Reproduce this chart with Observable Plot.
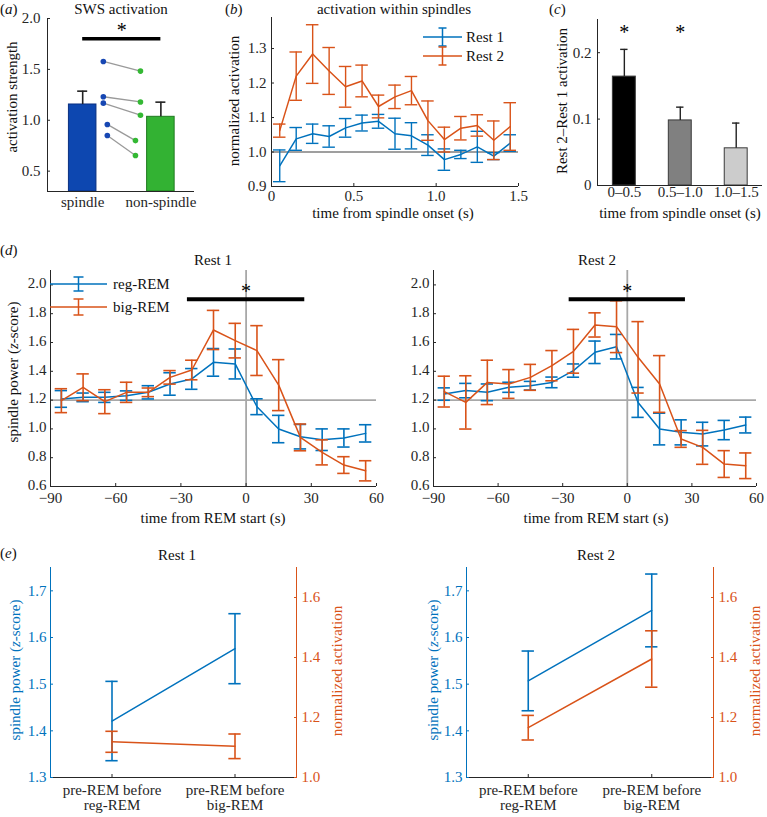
<!DOCTYPE html>
<html><head><meta charset="utf-8">
<script src="https://cdn.jsdelivr.net/npm/d3@7"></script>
<script src="https://cdn.jsdelivr.net/npm/@observablehq/plot@0.6"></script>
<style>
body{margin:0;background:#fff;}
#root{position:relative;width:767px;height:817px;font-family:"Liberation Serif","Times New Roman",serif;color:#111;overflow:hidden;background:#fff}
</style></head><body><div id="root"></div>
<script>
// ---------- DATA ----------
// (a) SWS activation
const catsA = ["spindle", "non-spindle"];
const barA = [1.155, 1.034];
const errA = [0.131, 0.144];
const pairsSpindle = [1.578, 1.231, 1.168, 0.959, 0.850];
const pairsNonSpindle = [1.483, 1.180, 1.050, 0.800, 0.654];
const sigA = {from: 1, to: 2, y: 1.80};

// (b) activation within spindles
const timeB = [0.05, 0.15, 0.25, 0.35, 0.45, 0.55, 0.65, 0.75, 0.85, 0.95, 1.05, 1.15, 1.25, 1.35, 1.45];
const rest1B = [0.960, 1.038, 1.053, 1.045, 1.070, 1.084, 1.089, 1.053, 1.047, 1.020, 0.978, 0.993, 1.015, 0.988, 1.026];
const rest1BErr = [0.046, 0.033, 0.028, 0.031, 0.027, 0.023, 0.020, 0.045, 0.038, 0.030, 0.031, 0.012, 0.045, 0.010, 0.024];
const rest2B = [1.062, 1.220, 1.284, 1.235, 1.189, 1.206, 1.132, 1.160, 1.178, 1.091, 1.036, 1.069, 1.077, 1.034, 1.074];
const rest2BErr = [0.019, 0.070, 0.085, 0.068, 0.059, 0.046, 0.033, 0.034, 0.041, 0.057, 0.036, 0.034, 0.031, 0.056, 0.069];

// (c) Rest 2 - Rest 1 activation
const catsC = ["0–0.5", "0.5–1.0", "1.0–1.5"];
const diffC = [0.164, 0.098, 0.056];
const diffCErr = [0.041, 0.020, 0.038];
const sigC = [true, true, false];

// (d) spindle power around REM start
const timeD = [-85, -75, -65, -55, -45, -35, -25, -15, -5, 5, 15, 25, 35, 45, 55];
const regR1 = [1.208, 1.219, 1.219, 1.231, 1.254, 1.312, 1.347, 1.462, 1.451, 1.154, 0.999, 0.946, 0.925, 0.937, 0.969];
const regR1Err = [0.058, 0.030, 0.035, 0.033, 0.046, 0.078, 0.072, 0.096, 0.104, 0.055, 0.095, 0.085, 0.075, 0.063, 0.060];
const bigR1 = [1.196, 1.289, 1.189, 1.254, 1.254, 1.358, 1.409, 1.687, 1.613, 1.544, 1.304, 0.941, 0.837, 0.749, 0.709];
const bigR1Err = [0.083, 0.093, 0.083, 0.070, 0.030, 0.047, 0.068, 0.136, 0.120, 0.173, 0.177, 0.093, 0.087, 0.058, 0.070];
const regR2 = [1.242, 1.266, 1.254, 1.289, 1.300, 1.323, 1.405, 1.532, 1.571, 1.184, 0.999, 0.976, 0.964, 0.992, 1.027];
const regR2Err = [0.043, 0.050, 0.058, 0.035, 0.030, 0.037, 0.046, 0.078, 0.085, 0.104, 0.110, 0.087, 0.082, 0.067, 0.055];
const bigR2 = [1.259, 1.184, 1.323, 1.312, 1.358, 1.439, 1.539, 1.722, 1.710, 1.497, 1.312, 0.930, 0.872, 0.756, 0.744];
const bigR2Err = [0.107, 0.185, 0.154, 0.100, 0.090, 0.105, 0.152, 0.084, 0.180, 0.248, 0.197, 0.058, 0.118, 0.093, 0.089];
const sigD = {from: -27, to: 27, y: 1.90};

// (e) pre-REM spindle power and activation
const catsE = ["pre-REM before\nreg-REM", "pre-REM before\nbig-REM"];
const powerE1 = [1.421, 1.576];
const powerE1Err = [0.085, 0.075];
const actE1 = [1.119, 1.104];
const actE1Err = [0.035, 0.041];
const powerE2 = [1.507, 1.658];
const powerE2Err = [0.064, 0.078];
const actE2 = [1.166, 1.395];
const actE2Err = [0.041, 0.094];

// ---------- HELPERS ----------
const root = document.getElementById("root");
const FONT = '"Liberation Serif","Times New Roman",serif';
const BLUE = "#0072BD", ORANGE = "#D95319", AX = "#262626";
const STYLE = {fontFamily: FONT, fontSize: "15px", color: AX, background: "transparent", overflow: "visible"};
const f1 = d3.format(".1f");
const f0 = d => d === 0 ? "0" : f1(d);

function box(fx0, fx1, fy0, fy1, bx0, bx1, by0, by1) {
  return {width: bx1 - bx0, height: by1 - by0, marginLeft: fx0 - bx0, marginRight: bx1 - fx1, marginTop: fy0 - by0, marginBottom: by1 - fy1};
}
function mount(svg, x, y) {
  svg.style.position = "absolute"; svg.style.left = x + "px"; svg.style.top = y + "px";
  root.appendChild(svg);
}
function txt(html, x, y, o = {}) {
  const d = document.createElement("div");
  d.innerHTML = html;
  d.style.cssText = `position:absolute;left:${x}px;top:${y}px;white-space:nowrap;font-size:${o.size || 15}px;line-height:1;color:${o.color || "#111"};transform:translate(${o.start ? "0" : "-50%"},-50%)${o.rotate ? " rotate(-90deg)" : ""};`;
  root.appendChild(d);
}
function errMarks(xs, ms, es, color, cap, oneSided = false, sw = 1.4) {
  const rows = xs.map((x, i) => ({x, lo: oneSided ? ms[i] : ms[i] - es[i], hi: ms[i] + es[i]}));
  const m = [
    Plot.ruleX(rows, {x: "x", y1: "lo", y2: "hi", stroke: color, strokeWidth: sw}),
    Plot.ruleY(rows, {y: "hi", x1: d => d.x - cap, x2: d => d.x + cap, stroke: color, strokeWidth: sw})
  ];
  if (!oneSided) m.push(Plot.ruleY(rows, {y: "lo", x1: d => d.x - cap, x2: d => d.x + cap, stroke: color, strokeWidth: sw}));
  return m;
}
function lineMark(xs, ms, color) {
  return Plot.line(xs.map((x, i) => ({x, y: ms[i]})), {x: "x", y: "y", stroke: color, strokeWidth: 1.5});
}
function axisLeft(ticks, fmt, color = AX, pad = 5, dy = 0) {
  return [
    Plot.axisY({ticks, tickFormat: fmt, tickSize: 0, tickPadding: pad, dy, fill: color, label: null}),
    Plot.axisY({ticks, tickSize: 3, dx: 3, stroke: color, fill: "none", label: null})
  ];
}
function axisRight(ticks, fmt, color = AX, pad = 5) {
  return [
    Plot.axisY({anchor: "right", ticks, tickFormat: fmt, tickSize: 0, tickPadding: pad, fill: color, label: null}),
    Plot.axisY({anchor: "right", ticks, tickSize: 3, dx: -3, stroke: color, fill: "none", label: null})
  ];
}
function axisBottom(ticks, fmt, pad = 5, inward = true, color = AX) {
  const m = [Plot.axisX({ticks, tickFormat: fmt, tickSize: 0, tickPadding: pad, fill: color, label: null})];
  if (inward) m.push(Plot.axisX({ticks, tickSize: 3, dy: -3, stroke: color, fill: "none", label: null}));
  return m;
}

// ---------- (a) ----------
{
  const xd = [0.55, 2.43], yd = [0.3, 2.0];
  const rows = catsA.map((c, i) => ({i: i + 1, v: barA[i]}));
  const barFill = ["#0d47b0", "#33b233"], barStroke = ["#0a2f80", "#1f7a1f"];
  const dotX1 = [1.264, 1.264, 1.264, 1.315, 1.315], dotX2 = [1.739, 1.739, 1.739, 1.675, 1.675];
  const pairs = pairsSpindle.map((s, i) => ({x1: dotX1[i], y1: s, x2: dotX2[i], y2: pairsNonSpindle[i]}));
  const svg = Plot.plot({
    ...box(47, 194, 18, 191, 0, 205, 0, 225), style: STYLE,
    x: {domain: xd, axis: null}, y: {domain: yd, axis: null}, color: {type: "identity"},
    marks: [
      Plot.rectY(rows, {x1: d => d.i - 0.176, x2: d => d.i + 0.176, y1: yd[0], y2: "v", fill: d => barFill[d.i - 1], stroke: d => barStroke[d.i - 1], strokeWidth: 1}),
      ...errMarks([1, 2], barA, errA, "#222", 0.064, true, 1.6),
      Plot.link(pairs, {x1: "x1", y1: "y1", x2: "x2", y2: "y2", stroke: "#9a9a9a", strokeWidth: 1.3}),
      Plot.dot(pairs, {x: "x1", y: "y1", r: 2.8, fill: "#1747b3"}),
      Plot.dot(pairs, {x: "x2", y: "y2", r: 2.8, fill: "#33b833"}),
      Plot.ruleY([sigA], {y: "y", x1: "from", x2: "to", stroke: "#000", strokeWidth: 3.5}),
      Plot.text([sigA], {x: d => (d.from + d.to) / 2, y: "y", text: () => "*", dy: -8, fontSize: 20, fill: "#000"}),
      Plot.ruleX([xd[0]], {stroke: AX}), Plot.ruleY([yd[0]], {stroke: AX}),
      ...axisLeft([0.5, 1.0, 1.5, 2.0], f1, AX, 7),
      ...axisBottom([1, 2], d => catsA[d - 1], 5, false)
    ]
  });
  mount(svg, 0, 0);
}

// ---------- (b) ----------
{
  const xd = [0, 1.5], yd = [0.9, 1.39];
  const svg = Plot.plot({
    ...box(271, 518, 17, 186, 190, 528, 0, 225), style: STYLE,
    x: {domain: xd, axis: null}, y: {domain: yd, axis: null},
    marks: [
      Plot.ruleY([1.0], {stroke: "#7f7f7f", strokeWidth: 1.3}),
      lineMark(timeB, rest1B, BLUE), ...errMarks(timeB, rest1B, rest1BErr, BLUE, 0.038),
      lineMark(timeB, rest2B, ORANGE), ...errMarks(timeB, rest2B, rest2BErr, ORANGE, 0.038),
      Plot.ruleX([xd[0]], {stroke: AX}), Plot.ruleY([yd[0]], {stroke: AX}),
      ...axisLeft([0.9, 1.0, 1.1, 1.2, 1.3], f1, AX, 5),
      ...axisBottom([0, 0.5, 1.0, 1.5], f0, 4)
    ]
  });
  mount(svg, 190, 0);
}

// ---------- (c) ----------
{
  const xd = [0.52, 3.47], yd = [0, 0.25];
  const rows = catsC.map((c, i) => ({i: i + 1, v: diffC[i], sig: sigC[i], e: diffCErr[i]}));
  const fills = ["#000000", "#808080", "#cccccc"];
  const svg = Plot.plot({
    ...box(597, 762, 19, 185, 530, 767, 0, 225), style: STYLE,
    x: {domain: xd, axis: null}, y: {domain: yd, axis: null}, color: {type: "identity"},
    marks: [
      Plot.rectY(rows, {x1: d => d.i - 0.205, x2: d => d.i + 0.205, y1: 0, y2: "v", fill: d => fills[d.i - 1], stroke: "#3a3a3a", strokeWidth: 1}),
      ...errMarks([1, 2, 3], diffC, diffCErr, "#222", 0.066, true, 1.4),
      Plot.text(rows.filter(d => d.sig), {x: "i", y: 0.233, text: () => "*", fontSize: 20, dy: 2, fill: "#000"}),
      Plot.ruleX([xd[0]], {stroke: AX}), Plot.ruleY([yd[0]], {stroke: AX}),
      ...axisLeft([0, 0.1, 0.2], f0, AX, 6),
      ...axisBottom([1, 2, 3], d => catsC[d - 1], 1, false)
    ]
  });
  mount(svg, 530, 0);
}

// ---------- (d) ----------
function panelD(reg, regErr, big, bigErr, fx0, fx1, bx0, bx1) {
  const xd = [-90, 60], yd = [0.6, 2.1];
  const svg = Plot.plot({
    ...box(fx0, fx1, 270, 486, bx0, bx1, 262, 532), style: STYLE,
    x: {domain: xd, axis: null}, y: {domain: yd, axis: null},
    marks: [
      Plot.ruleY([1.2], {stroke: "#a8a8a8", strokeWidth: 1.8}),
      Plot.ruleX([0], {stroke: "#a8a8a8", strokeWidth: 1.8}),
      lineMark(timeD, reg, BLUE), ...errMarks(timeD, reg, regErr, BLUE, 2.85, false, 1.6),
      lineMark(timeD, big, ORANGE), ...errMarks(timeD, big, bigErr, ORANGE, 2.85, false, 1.6),
      Plot.ruleY([sigD], {y: "y", x1: "from", x2: "to", stroke: "#000", strokeWidth: 4}),
      Plot.text([sigD], {x: d => (d.from + d.to) / 2, y: "y", text: () => "*", dy: -8, fontSize: 20, fill: "#000"}),
      Plot.ruleX([xd[0]], {stroke: AX}), Plot.ruleY([yd[0]], {stroke: AX}),
      ...axisLeft([0.6, 0.8, 1.0, 1.2, 1.4, 1.6, 1.8, 2.0], f1, AX, 4, -1.5),
      ...axisBottom([-90, -60, -30, 0, 30, 60], d3.format(""), 6)
    ]
  });
  mount(svg, bx0, 262);
}
panelD(regR1, regR1Err, bigR1, bigR1Err, 50, 376, 0, 385);
panelD(regR2, regR2Err, bigR2, bigR2Err, 433, 756, 385, 767);

// ---------- (e) ----------
function panelE(pow, powErr, act, actErr, fx0, fx1, bx0, bx1) {
  const xd = [0.5, 2.5];
  const b = box(fx0, fx1, 567, 777, bx0, bx1, 560, 817);
  const main = Plot.plot({
    ...b, style: STYLE,
    x: {domain: xd, axis: null}, y: {domain: [1.3, 1.75], axis: null},
    marks: [
      lineMark([1, 2], pow, BLUE), ...errMarks([1, 2], pow, powErr, BLUE, 0.05, false, 1.6),
      Plot.ruleX([xd[0]], {stroke: BLUE}), Plot.ruleY([1.3], {stroke: AX}),
      ...axisLeft([1.3, 1.4, 1.5, 1.6, 1.7], f1, BLUE, 4),
      ...axisBottom([1, 2], d => catsE[d - 1], 7, true)
    ]
  });
  mount(main, bx0, 560);
  const over = Plot.plot({
    ...b, style: STYLE,
    x: {domain: xd, axis: null}, y: {domain: [1.0, 1.7], axis: null},
    marks: [
      lineMark([1, 2], act, ORANGE), ...errMarks([1, 2], act, actErr, ORANGE, 0.05, false, 1.6),
      Plot.ruleX([xd[1]], {stroke: ORANGE}),
      ...axisRight([1.0, 1.2, 1.4, 1.6], f1, ORANGE, 5)
    ]
  });
  mount(over, bx0, 560);
}
panelE(powerE1, powerE1Err, actE1, actE1Err, 50, 296, 0, 385);
panelE(powerE2, powerE2Err, actE2, actE2Err, 466, 713, 385, 767);

// ---------- legends ----------
const lg = d3.select(root).append("svg").attr("width", 767).attr("height", 817)
  .style("position", "absolute").style("left", "0px").style("top", "0px").style("pointer-events", "none")
  .style("font-family", FONT).style("font-size", "15px");
function legendEntry(x0, x1, y, half, cap, color, label, tx) {
  const g = lg.append("g").attr("stroke", color).attr("stroke-width", 1.5);
  const xm = (x0 + x1) / 2;
  g.append("line").attr("x1", x0).attr("x2", x1).attr("y1", y).attr("y2", y);
  g.append("line").attr("x1", xm).attr("x2", xm).attr("y1", y - half).attr("y2", y + half);
  g.append("line").attr("x1", xm - cap).attr("x2", xm + cap).attr("y1", y - half).attr("y2", y - half);
  g.append("line").attr("x1", xm - cap).attr("x2", xm + cap).attr("y1", y + half).attr("y2", y + half);
  lg.append("text").attr("x", tx).attr("y", y).attr("dy", "0.35em").attr("fill", "#111").text(label);
}
legendEntry(423, 462, 37, 9, 4, BLUE, "Rest 1", 466);
legendEntry(423, 462, 56, 9, 4, ORANGE, "Rest 2", 466);
legendEntry(50, 107, 284, 7, 5, BLUE, "reg-REM", 113);
legendEntry(50, 107, 307, 8, 5, ORANGE, "big-REM", 113);

// ---------- titles & labels ----------
txt("(<i>a</i>)", 0, 9, {start: true});
txt("SWS activation", 121, 9);
txt("activation strength", 12, 97, {rotate: true});
txt("(<i>b</i>)", 225, 9, {start: true});
txt("activation within spindles", 394, 9);
txt("normalized activation", 234, 101, {rotate: true});
txt("time from spindle onset (s)", 393, 213);
txt("(<i>c</i>)", 549, 9, {start: true});
txt("Rest 2–Rest 1 activation", 562, 101, {rotate: true});
txt("time from spindle onset (s)", 680, 213);
txt("(<i>d</i>)", 0, 250, {start: true});
txt("Rest 1", 213, 260);
txt("Rest 2", 597, 260);
txt("spindle power (<i>z</i>-score)", 13, 372, {rotate: true});
txt("time from REM start (s)", 213, 518);
txt("time from REM start (s)", 596, 518);
txt("(<i>e</i>)", 0, 553, {start: true});
txt("Rest 1", 177, 555);
txt("Rest 2", 596, 555);
txt("spindle power (<i>z</i>-score)", 15, 670, {rotate: true, color: BLUE});
txt("normalized activation", 337, 671, {rotate: true, color: ORANGE});
txt("spindle power (<i>z</i>-score)", 433, 670, {rotate: true, color: BLUE});
txt("normalized activation", 755, 671, {rotate: true, color: ORANGE});
</script></body></html>
